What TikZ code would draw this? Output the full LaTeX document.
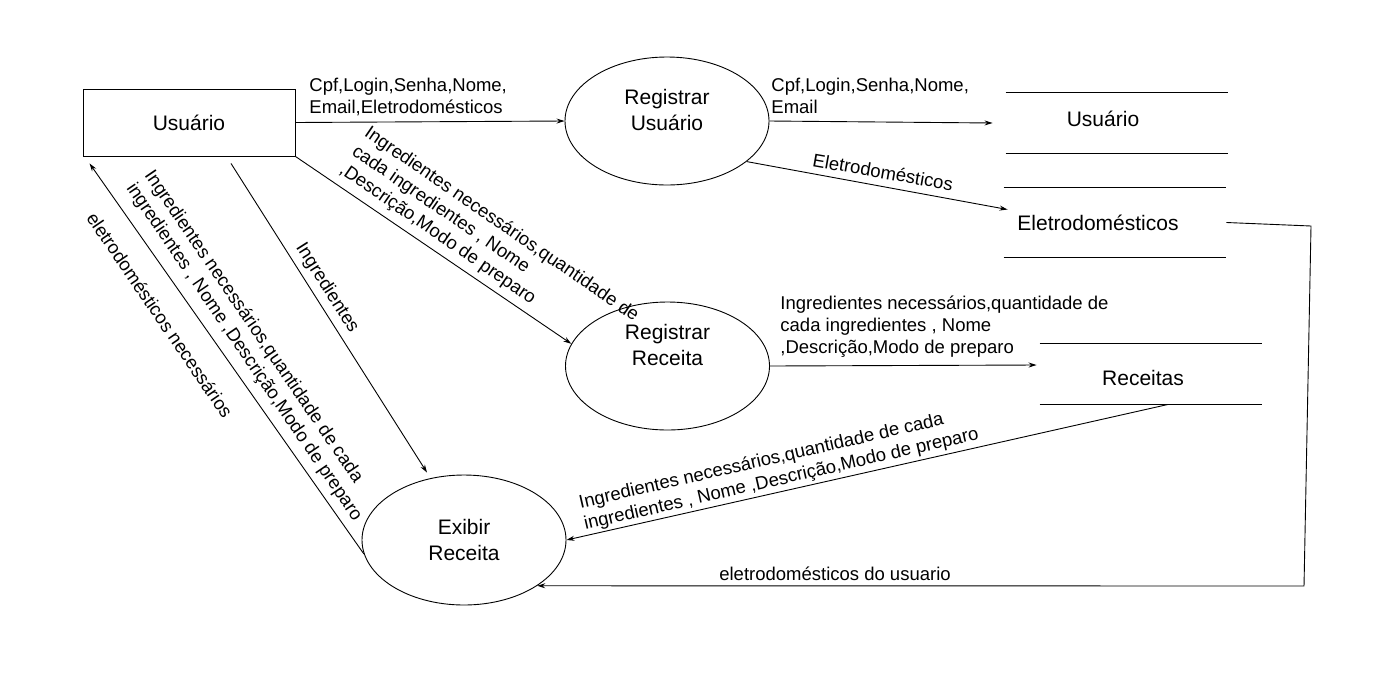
\documentclass[tikz,border=0pt]{standalone}
\usepackage{fontspec}
\setmainfont{Liberation Sans}
\usetikzlibrary{shapes.geometric}
\usetikzlibrary{arrows.meta}
\usetikzlibrary{calc}

\newcommand{\lblfont}{\fontsize{18.5}{22}\selectfont}
\newcommand{\boxfont}{\fontsize{21}{26}\selectfont}

\tikzset{
    entity/.style={draw,rectangle,minimum width=212pt,minimum height=67pt,font=\boxfont},
    proc/.style={draw,ellipse,minimum width=204pt,minimum height=128pt,inner sep=0pt,
        font=\boxfont,align=center},
    store/.style={minimum width=222pt,minimum height=60pt,inner sep=0pt},
    stxt/.style={font=\boxfont,align=center},
    lbl/.style={font=\lblfont,align=left,inner sep=0pt},
    flow/.style={draw,-{Stealth[length=8pt,width=5pt]}}
}

\begin{document}
\begin{tikzpicture}[x=1pt,y=-1pt,line width=0.9pt]
        \useasboundingbox (0,0) rectangle (1396,678);
        % entity and processes
        \node[entity] (usr) at (189,122.5) {Usuário};
        \node[proc,label={[stxt,yshift=11pt]center:Registrar\\Usuário}] (regusr) at (667,121) {};
        \node[proc,label={[stxt,yshift=21pt]center:Registrar\\Receita}] (regrec) at (667.5,366) {};
        \node[proc,minimum height=130pt] (exib) at (464,540) {Exibir\\Receita};
        % data stores
        \node[store,label={[stxt,xshift=-14pt,yshift=4pt]center:Usuário}] (susr) at (1117,123) {};
        \node[store,minimum height=69pt,label={[stxt,xshift=-17pt]center:Eletrodomésticos}] (seletro) at (1115,222.5) {};
        \node[store,label={[stxt,xshift=-8pt,yshift=-4pt]center:Receitas}] (srec) at (1151,374) {};
        \foreach \s in {susr,seletro,srec}
            \draw (\s.north west) -- (\s.north east) (\s.south west) -- (\s.south east);
        % flows
        \draw[flow] (usr.east) -- (regusr.west);
        \draw[flow] (regusr.east) -- ([xshift=-13pt]susr.west);
        \draw[flow] (regusr.-27) -- ([xshift=4pt,yshift=13pt]seletro.west);
        \draw[flow] (usr.south east) -- (regrec.167);
        \draw[flow] ([xshift=42pt,yshift=-7pt]usr.south) -- ([xshift=-37pt,yshift=2pt]exib.north);
        \draw[flow] (exib.188) -- ([xshift=7pt,yshift=-7pt]usr.south west);
        \draw[flow] (regrec.east) -- ([xshift=-3pt,yshift=9pt]srec.west);
        \draw[flow] ([xshift=17pt]srec.south) -- (exib.east);
        \coordinate (c1) at (1311,226);
        \coordinate (c2) at (1304,586);
        \draw[flow] (seletro.east) -- (c1) -- (c2) -- (exib.-32);
        % flow labels
        \node[lbl,anchor=west] (l1) at (309,96.5) {Cpf,Login,Senha,Nome,\\Email,Eletrodomésticos};
        \node[lbl,anchor=west] (l2) at (771,96) {Cpf,Login,Senha,Nome,\\Email};
        \node[lbl,rotate=-10] (l3) at (883,172) {Eletrodomésticos};
        \node[lbl,rotate=-34.5] (l4) at (489,243) {Ingredientes necessários,quantidade de\\cada ingredientes , Nome\\,Descrição,Modo de preparo};
        \node[lbl,rotate=-57.6] (l5) at (327,288) {Ingredientes};
        \node[lbl,rotate=-55.7] (l6) at (253,346) {Ingredientes necessários,quantidade de cada\\ingredientes , Nome ,Descrição,Modo de preparo};
        \node[lbl,rotate=-55.7] (l7) at (160,315) {eletrodomésticos necessários};
        \node[lbl,anchor=west] (l8) at (780,327) {Ingredientes necessários,quantidade de\\cada ingredientes , Nome\\,Descrição,Modo de preparo};
        \node[lbl,rotate=13] (l9) at (779,469) {Ingredientes necessários,quantidade de cada\\ingredientes , Nome ,Descrição,Modo de preparo};
        \node[lbl] (l10) at (835,574) {eletrodomésticos do usuario};
    \end{tikzpicture}
\end{document}
